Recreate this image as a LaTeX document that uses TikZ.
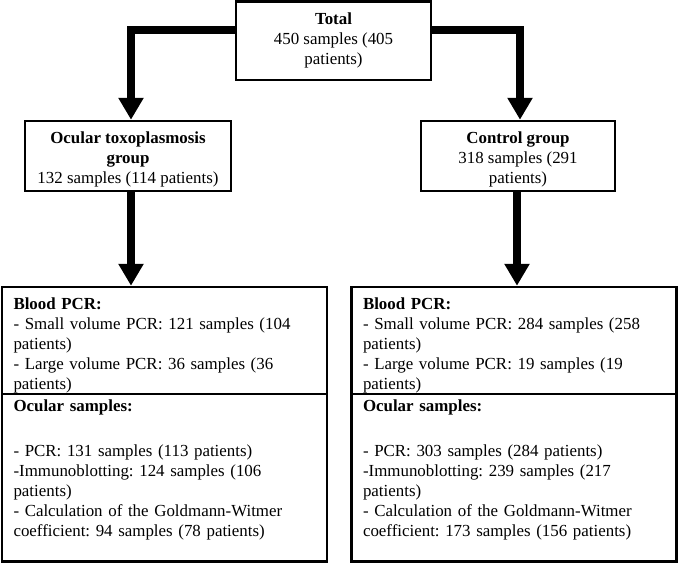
\documentclass[tikz,border=0pt]{standalone}
\usepackage{fontspec}
\setmainfont{Liberation Serif}
\frenchspacing
\usetikzlibrary{arrows.meta}

\begin{document}
\begin{tikzpicture}[x=1pt, y=-1pt,
		every node/.style={font=\fontsize{16.9}{20}\selectfont},
		groupbox/.style={draw, line width=2.5pt, align=center, inner sep=0pt},
		listbox/.style={draw, line width=2.5pt, align=left, inner sep=0pt,
			text width=302pt, minimum width=325pt},
		flowarrow/.style={line width=8pt, -{Triangle[width=24pt,length=22pt]}}]
		\useasboundingbox (0,0) rectangle (678,565);
		\node (total) [groupbox, minimum width=195pt, minimum height=78.7pt] at (333.5,40.6)
		{\textbf{Total}\\450 samples (405\\patients)};
		\node (ocgroup) [groupbox, minimum width=206pt, minimum height=70pt] at (128,156)
		{\rule{0pt}{19.5pt}\textbf{Ocular toxoplasmosis}\\\textbf{group}\\132 samples (114 patients)};
		\node (ctrlgroup) [groupbox, minimum width=194pt, minimum height=70pt] at (518,156)
		{\rule{0pt}{19.5pt}\textbf{Control group}\\318 samples (291\\patients)};
		\node (bloodL) [listbox, minimum height=107pt] at (164.5,340.5)
		{\rule{0pt}{21.5pt}\textbf{Blood PCR:}\\- Small volume PCR: 121 samples (104\\patients)\\- Large volume PCR: 36 samples (36\\patients)};
		\node (ocularL) [listbox, minimum height=167.5pt] at (164.5,477.75)
		{\textbf{Ocular samples:}\\[25pt]- PCR: 131 samples (113 patients)\\-Immunoblotting: 124 samples (106\\patients)\\- Calculation of the Goldmann-Witmer\\coefficient: 94 samples (78 patients)\\\mbox{}};
		\node (bloodR) [listbox, minimum height=107pt] at (514,340.5)
		{\rule{0pt}{21.5pt}\textbf{Blood PCR:}\\- Small volume PCR: 284 samples (258\\patients)\\- Large volume PCR: 19 samples (19\\patients)};
		\node (ocularR) [listbox, minimum height=167.5pt] at (514,477.75)
		{\textbf{Ocular samples:}\\[25pt]- PCR: 303 samples (284 patients)\\-Immunoblotting: 239 samples (217\\patients)\\- Calculation of the Goldmann-Witmer\\coefficient: 173 samples (156 patients)\\\mbox{}};
		\draw[flowarrow] ([yshift=10.5pt]total.west) -| ([xshift=3pt]ocgroup.north);
		\draw[flowarrow] ([yshift=10.5pt]total.east) -| ([xshift=2pt]ctrlgroup.north);
		\draw[flowarrow] ([xshift=3pt]ocgroup.south) -- ([xshift=3pt]ocgroup.south |- bloodL.north);
		\draw[flowarrow] ([xshift=-1pt]ctrlgroup.south) -- ([xshift=-1pt]ctrlgroup.south |- bloodR.north);
		\end{tikzpicture}
\end{document}
